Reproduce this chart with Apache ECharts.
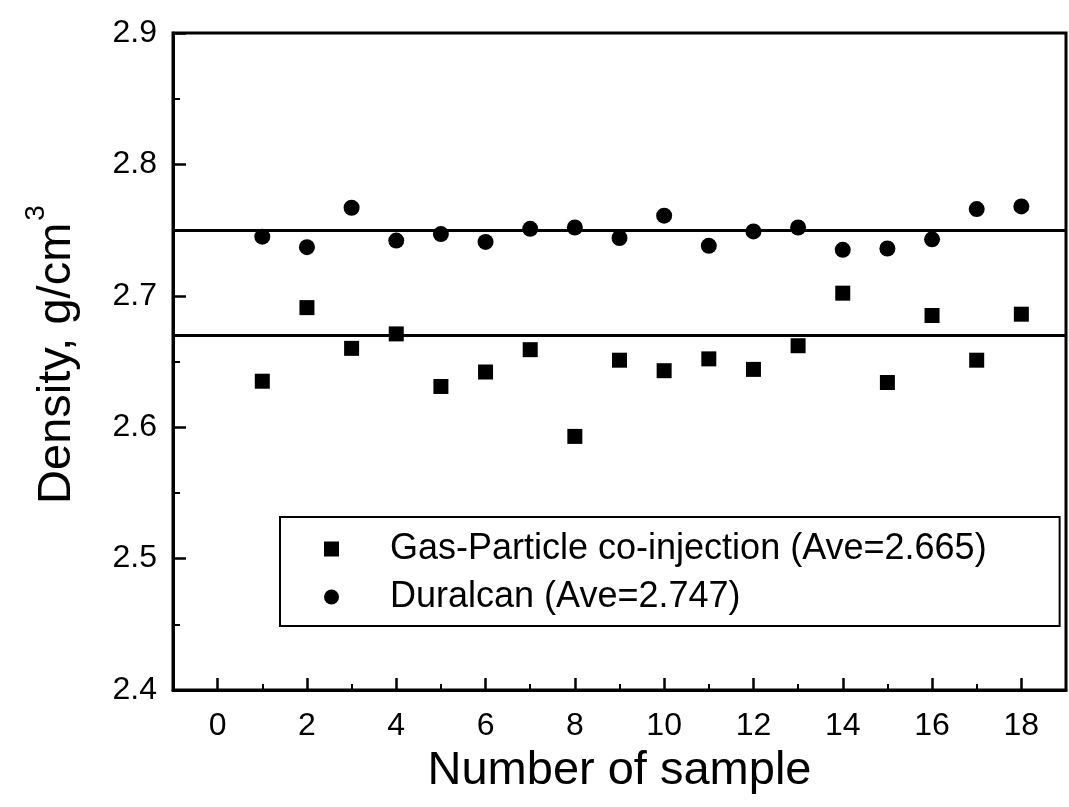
<!DOCTYPE html>
<html>
<head>
<meta charset="utf-8">
<script src="https://cdn.jsdelivr.net/npm/echarts@6/dist/echarts.min.js"></script>
<style>
  html, body { margin: 0; padding: 0; background: #fff; }
  #chart { width: 1069px; height: 807px; }
</style>
</head>
<body>
<div id="chart"></div>
<script>
// sample numbers and measured densities (g/cm3)
var sampleNo = [1, 2, 3, 4, 5, 6, 7, 8, 9, 10, 11, 12, 13, 14, 15, 16, 17, 18];
var gasDensity = [2.635, 2.691, 2.660, 2.671, 2.631, 2.642, 2.659, 2.593, 2.651,
  2.643, 2.652, 2.644, 2.662, 2.702, 2.634, 2.685, 2.651, 2.686];
var duralDensity = [2.745, 2.737, 2.767, 2.742, 2.747, 2.741, 2.751, 2.752, 2.744,
  2.761, 2.738, 2.749, 2.752, 2.735, 2.736, 2.743, 2.766, 2.768];
var gasAve = 2.665;
var duralAve = 2.747;
var gasName = 'Gas-Particle co-injection (Ave=2.665)';
var duralName = 'Duralcan (Ave=2.747)';
var xTickLabels = [0, 2, 4, 6, 8, 10, 12, 14, 16, 18];

var FONT = '"Liberation Sans", Arial, sans-serif';

function pairs(xs, ys) {
  var out = [];
  for (var i = 0; i < xs.length; i++) {
    out.push([xs[i], ys[i]]);
  }
  return out;
}

function aveLine(v) {
  return {
    silent: true,
    symbol: 'none',
    label: {show: false},
    lineStyle: {color: '#000', width: 3, type: 'solid', opacity: 1},
    data: [{yAxis: v}]
  };
}

var option = {
  animation: false,
  backgroundColor: '#fff',
  textStyle: {fontFamily: FONT, color: '#000'},
  grid: {
    left: 173, right: 3, top: 33, bottom: 117,
    show: true, borderColor: '#000', borderWidth: 3, backgroundColor: 'transparent'
  },
  legend: {
    orient: 'vertical',
    left: 280, top: 517,
    padding: [14, 73, 11, 44],
    itemGap: 12,
    itemWidth: 15, itemHeight: 15,
    borderColor: '#000', borderWidth: 2,
    selectedMode: false,
    itemStyle: {opacity: 1},
    formatter: function (name) {
      return '{t|' + name + '}';
    },
    textStyle: {
      fontFamily: FONT, color: '#000',
      rich: {t: {fontFamily: FONT, fontSize: 36, lineHeight: 36, color: '#000', padding: [0, 0, 0, 46]}}
    },
    data: [gasName, duralName]
  },
  // ticks start from min (-1): odd ticks short, even ones drawn as long minor ticks
  xAxis: {
    type: 'value',
    min: -1, max: 19, interval: 2,
    name: 'Number of sample',
    nameLocation: 'middle',
    nameGap: 58,
    nameTextStyle: {fontFamily: FONT, fontSize: 47, color: '#000'},
    axisLine: {show: true, onZero: false, lineStyle: {color: '#000', width: 3}},
    axisTick: {show: true, inside: true, length: 6, lineStyle: {color: '#000', width: 2}},
    minorTick: {show: true, splitNumber: 2, length: 12, lineStyle: {color: '#000', width: 2.5}},
    axisLabel: {fontFamily: FONT, fontSize: 32, color: '#000', margin: 20, customValues: xTickLabels},
    splitLine: {show: false},
    minorSplitLine: {show: false}
  },
  yAxis: {
    type: 'value',
    min: 2.4, max: 2.9, interval: 0.1,
    name: '{a|Density, g/cm}{s|3}',
    nameLocation: 'middle',
    nameRotate: 90,
    nameGap: 92,
    nameTextStyle: {
      fontFamily: FONT, color: '#000',
      rich: {
        a: {fontFamily: FONT, fontSize: 47, color: '#000', verticalAlign: 'bottom', padding: [0, 0, 0, 14]},
        s: {fontFamily: FONT, fontSize: 28, color: '#000', verticalAlign: 'bottom', padding: [0, 0, 31, 2]}
      }
    },
    axisLine: {show: true, onZero: false, lineStyle: {color: '#000', width: 3}},
    axisTick: {show: true, inside: true, length: 13, lineStyle: {color: '#000', width: 2.5}},
    minorTick: {show: true, splitNumber: 2, length: 7, lineStyle: {color: '#000', width: 2}},
    axisLabel: {
      fontFamily: FONT, fontSize: 32, color: '#000', margin: 16,
      formatter: function (v) { return v.toFixed(1); }
    },
    splitLine: {show: false},
    minorSplitLine: {show: false}
  },
  series: [{
    name: gasName,
    type: 'scatter',
    symbol: 'rect',
    symbolSize: 15,
    itemStyle: {color: '#000', opacity: 1},
    data: pairs(sampleNo, gasDensity),
    markLine: aveLine(gasAve)
  }, {
    name: duralName,
    type: 'scatter',
    symbol: 'circle',
    symbolSize: 16,
    itemStyle: {color: '#000', opacity: 1},
    data: pairs(sampleNo, duralDensity),
    markLine: aveLine(duralAve)
  }]
};

var chart = echarts.init(document.getElementById('chart'));
chart.setOption(option);
</script>
</body>
</html>
